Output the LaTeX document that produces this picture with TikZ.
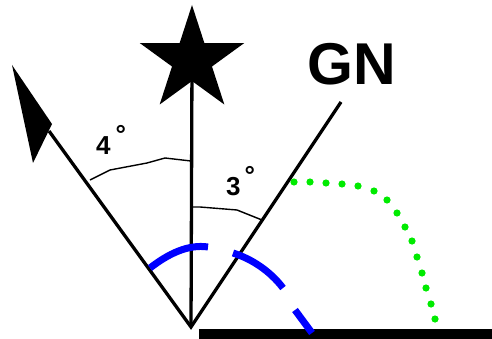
\documentclass[tikz,border=0pt]{standalone}
\usepackage{fontspec}
\setmainfont{Liberation Sans}
\usetikzlibrary{shapes.geometric}
\definecolor{dblue}{RGB}{0,0,255}
\definecolor{dgreen}{RGB}{0,235,0}
\begin{document}
\begin{tikzpicture}[x=1pt,y=-1pt,
  ray/.style={line width=3.3pt, line join=miter},
  anglearc/.style={line width=1.4pt, line join=round},
  lbl/.style={font=\fontsize{26}{26}\selectfont\bfseries, inner sep=0pt, anchor=base west},
  bluedash/.style={draw=dblue, line width=7pt},
  greendot/.style={fill=dgreen},
  starshape/.style={star, star points=5, star point ratio=2.618, minimum size=110pt, inner sep=0pt, fill=black}]
\useasboundingbox (0,0) rectangle (492,339);
% key points
\coordinate (O) at (191,327);
\coordinate (Lend) at (49,131);
\coordinate (R) at (341,102);
\coordinate (S) at (192,60);
% ground bar
\fill (199,329) rectangle (492,339);
% rays
\draw[ray] (Lend) -- (O) -- (R);
\draw[ray] (O) -- (S);
\node[starshape] (star) at (S) {};
% arrowhead on the left ray
\fill (12,65) -- (52,124) -- (33,163) -- cycle;
% angle arcs
\draw[anglearc] (90,180) -- (110,170) -- (147,163) -- (165,158) -- (191,161);
\draw[anglearc] (191,207) -- (200,207) -- (237,210) -- (262,220);
% labels
\node[lbl] (a4) at (96,155) {4\hspace{5pt}\raisebox{11pt}{°}};
\node[lbl] (a3) at (226,195) {3\hspace{4pt}\raisebox{11pt}{°}};
\node[font=\fontsize{59}{59}\selectfont\bfseries, inner sep=0pt] (gn) at (352,64.5) {GN};
% blue dashed curve
\draw[bluedash] (150,268) .. controls (168,254) and (188,244) .. (208,247)
  (233,253) .. controls (252,259) and (270,271) .. (283,288)
  (295,310) -- (312,333);
% green dotted curve
\fill[greendot] \foreach \p in {(294,182),(310,182),(326,183),(342,184),(358,186),(374,191),(387,200),(397,213),(405,227),(412,241),(417,257),(422,273),(426,288),(431,304),(435,319)} {\p circle (3.6)};
\end{tikzpicture}
\end{document}
